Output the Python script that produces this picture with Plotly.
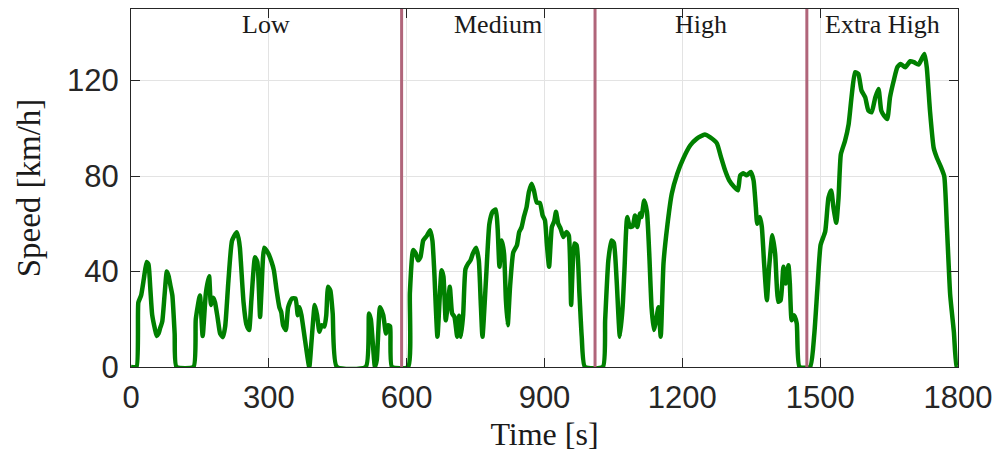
import plotly.graph_objects as go

# Drive-cycle speed trace, split into its four phases
time_low = [0, 12, 16, 22, 28, 34, 38, 42, 46, 52, 56, 60, 63, 68, 73, 78, 82, 86, 90, 95,
            99, 136, 141, 150, 156, 163, 170, 174, 179, 183, 189, 194, 200, 205, 212, 220,
            230, 234, 237, 245, 251, 257, 262, 270, 275, 281, 284, 290, 299, 306, 311, 317,
            323, 327, 331, 337, 342, 350, 358, 363, 367, 371, 379, 388, 393, 400, 405, 410,
            415, 421, 425, 429, 434, 439, 448, 511, 518, 522, 531, 535, 542, 549, 555, 560,
            564, 568]
speed_low = [0, 0, 27, 30, 37, 44, 43, 33, 22, 16, 13, 14, 16, 19, 30, 40, 38, 34, 30, 14,
             0, 0, 20, 30, 13, 31, 38, 26, 29, 27, 20, 14, 12.5, 17, 36, 53,
             56.5, 54, 50, 27, 18, 15.5, 28, 46, 44, 21, 32, 50, 47.5, 44, 40.5, 32,
             25, 23, 17.5, 15.5, 25, 28.7, 28.7, 21.7, 25, 21.7, 11, 0, 11, 26, 21.7, 14.8,
             17.5, 17, 21.7, 33.6, 32, 22.4, 0, 0, 22.4, 20, 0, 3, 25, 21.7, 14, 17.5,
             17, 0]

time_medium = [603, 607, 614, 620, 625, 630, 636, 644, 651, 656, 660, 667, 676, 680, 685,
               689, 694, 699, 704, 710, 714, 718, 723, 728, 734, 739, 744, 751, 757, 761,
               765, 773, 780, 787, 794, 798, 802, 807, 812, 816, 820, 825, 832, 840, 845,
               850, 855, 861, 866, 872, 877, 883, 890, 896, 901, 905, 910, 916, 921, 925,
               930, 935, 941, 948, 953, 958, 961, 965, 970, 976, 981, 988]
speed_medium = [0, 31, 49, 47.5, 44.7, 46, 53, 55, 57.3, 53, 40.5, 12.7, 40.5, 38, 19.6,
                25, 33.6, 22.4, 21, 12.7, 21.5, 12.7, 22, 41, 43.4, 44.7, 47.5, 50, 44.7, 28,
                12.7, 37.8, 60, 65, 66, 58, 42, 53, 47.5, 28, 17.5, 33.6, 48, 51, 56.6,
                58.5, 62.8, 67, 73.3, 76.8, 74, 69, 68.7, 63.5, 61.5, 51.7, 42, 58.7, 61, 65,
                60, 58, 54.5, 56.6, 55, 26, 40.5, 51.7, 51, 30.8, 12.7, 0]

time_high = [1027, 1032, 1039, 1046, 1051, 1057, 1064, 1070, 1074, 1080, 1086, 1092, 1097,
             1102, 1108, 1111, 1117, 1123, 1128, 1133, 1138, 1143, 1148, 1153, 1159, 1167,
             1177, 1189, 1202, 1217, 1231, 1249, 1260, 1275, 1284, 1293, 1302, 1313, 1321,
             1326, 1333, 1340, 1349, 1355, 1360, 1363, 1369, 1373, 1378, 1384, 1389, 1396,
             1402, 1409, 1414, 1420, 1425, 1431, 1434, 1438, 1443, 1449, 1455]
speed_high = [0, 19.6, 44.7, 53, 52, 36.4, 12.7, 25, 40.5, 62.8, 58.7, 59, 63.5,
              58.7, 64.3, 62.8, 69.8, 65, 47.5, 25, 15.5, 19.6, 25, 12.7, 43.4, 58.7,
              72.6, 81, 87.3, 92.8, 95.6, 97.4, 96.3, 93.8, 88, 82.4, 78.2, 75.4, 74,
              80.3, 81.2, 80.3, 81.7, 78.2, 67, 60, 62.8, 58.7, 43.4, 28, 42, 55.2,
              47.5, 27.3, 28, 42, 35, 42.6, 35, 19.6, 21.7, 18.3, 0]

time_extra = [1478, 1487, 1494, 1501, 1511, 1518, 1524, 1529, 1535, 1540, 1545, 1554, 1562,
              1569, 1576, 1583, 1590, 1598, 1605, 1612, 1620, 1627, 1633, 1639, 1646, 1652,
              1661, 1668, 1675, 1685, 1696, 1704, 1714, 1721, 1727, 1732, 1739, 1747, 1754,
              1762, 1770, 1776, 1783, 1791, 1797, 1800]
speed_extra = [0, 13.3, 33, 51.2, 56.8, 70.9, 74, 66.7, 60.4, 70.9, 89.1, 94.7, 101.8,
               114.4, 123.5, 122.8, 115.8, 113, 107.4, 106.7, 113, 116.5, 107.4, 105.3, 103.9, 113,
               120.7, 125.6, 127, 125.6, 128.1, 127.7, 126.7, 129.1, 131.2, 125.6, 107.4, 91.9, 87.7,
               84.2, 80, 58.2, 30.2, 14.7, 0, 0]

phase_names = ["Low", "Medium", "High", "Extra High"]
phase_bounds = [589, 1010, 1471]

x_ticks = [0, 300, 600, 900, 1200, 1500, 1800]
y_ticks = [0, 40, 80, 120]

time = time_low + time_medium + time_high + time_extra
speed = speed_low + speed_medium + speed_high + speed_extra

AX = "#262626"
GRID = "#e3e3e3"
SERIF = "Liberation Serif"
SANS = "Liberation Sans"

fig = go.Figure()
fig.add_trace(go.Scatter(
    x=time, y=speed, mode="lines",
    line=dict(color="#008000", width=4.5, shape="spline", smoothing=0.5),
    showlegend=False, hoverinfo="skip",
))

# Phase separators
for b in phase_bounds:
    fig.add_shape(type="line", x0=b, x1=b, y0=0, y1=150, xref="x", yref="y",
                  line=dict(color="#b0657a", width=3), layer="above")

# Phase labels centred in each phase
edges = [0] + phase_bounds + [1800]
for name, a, b in zip(phase_names, edges[:-1], edges[1:]):
    fig.add_annotation(x=(a + b) / 2, y=143.5, xref="x", yref="y", text=name,
                       showarrow=False, yanchor="middle",
                       font=dict(family=SERIF, size=26, color="#1a1a1a"))

axis_common = dict(
    showline=True, linecolor=AX, linewidth=1, mirror="allticks",
    ticks="inside", ticklen=9, tickwidth=1, tickcolor=AX,
    showgrid=True, gridcolor=GRID, gridwidth=1, zeroline=False,
    tickfont=dict(family=SANS, size=31, color=AX),
    automargin=False,
)

fig.update_xaxes(range=[0, 1800], tickvals=x_ticks, ticklabelstandoff=3,
                 title=dict(text="Time [s]", font=dict(family=SERIF, size=32, color="#1a1a1a"),
                            standoff=8),
                 **axis_common)
fig.update_yaxes(range=[0, 150], tickvals=y_ticks, ticklabelstandoff=5,
                 title=dict(text="Speed [km/h]", font=dict(family=SERIF, size=33, color="#1a1a1a"),
                            standoff=16),
                 **axis_common)

fig.update_layout(
    width=997, height=452,
    margin=dict(l=131, r=39, t=9, b=85),
    paper_bgcolor="white", plot_bgcolor="white",
)

fig.write_html("out.html")
